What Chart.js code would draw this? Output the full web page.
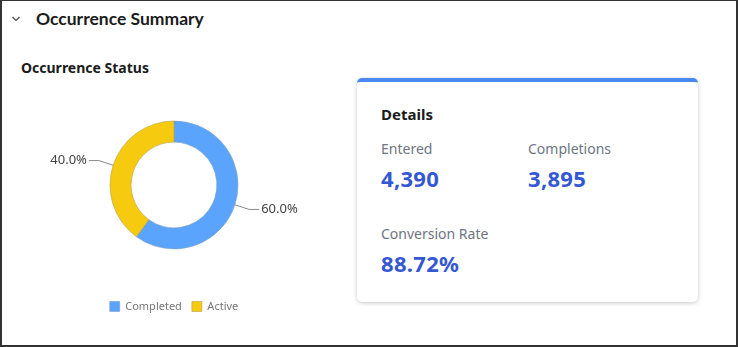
<!DOCTYPE html>
<html>
<head>
<meta charset="utf-8">
<script src="https://cdn.jsdelivr.net/npm/chart.js@4.4.0/dist/chart.umd.min.js"></script>
<style>
  html, body { margin: 0; padding: 0; background: #fff; }
  body { font-family: "Noto Sans", "Open Sans", sans-serif; }
  #panel {
    position: relative; width: 738px; height: 347px; box-sizing: border-box;
    border-top: 1px solid #333; border-left: 2px solid #333;
    border-right: 2px solid #333; border-bottom: 2px solid #333;
    background: #fff; overflow: hidden;
  }
  .caret { position: absolute; left: 8px; top: 13px; }
  .caret svg { display: block; }
  .title { position: absolute; left: 34px; top: 7px; font-family: Lato, "Noto Sans", sans-serif; font-size: 17.5px; font-weight: 700; color: #1b1b1b; }
  .subtitle { position: absolute; left: 19px; top: 57px; font-size: 14px; font-weight: 700; color: #1b1b1b; }
  #chartBox { position: absolute; left: 18px; top: 60px; width: 308px; height: 261px; }
  .card {
    position: absolute; left: 355px; top: 77px; width: 341px; height: 224px;
    box-sizing: border-box; border-radius: 5px; background: #fff;
    border-top: 4px solid #4b88f3;
    box-shadow: 0 1px 4px rgba(0,0,0,0.22);
  }
  .card h3 { position: absolute; left: 24px; top: 22px; margin: 0; font-size: 15px; font-weight: 700; color: #1b1b1b; }
  .stat { position: absolute; }
  .stat .lbl { font-size: 14px; color: #6e7583; line-height: 18px; }
  .stat .val { font-size: 22px; font-weight: 700; color: #3458d4; line-height: 30px; margin-top: 5px; letter-spacing: 0.3px; }
</style>
</head>
<body>
<div id="panel">
  <div class="caret"><svg width="12" height="10" viewBox="0 0 12 10"><path d="M2.5 3 L6 6.5 L9.5 3" fill="none" stroke="#444" stroke-width="1.1"/></svg></div>
  <div class="title">Occurrence Summary</div>
  <div class="subtitle">Occurrence Status</div>
  <div id="chartBox"><canvas id="statusChart"></canvas></div>
  <div class="card" id="details">
    <h3>Details</h3>
  </div>
</div>
<script>
// occurrence status split (percent)
var statusLabels = ['Completed', 'Active'];
var statusValues = [60, 40];
var statusColors = ['#5aa4fd', '#f6ca0f'];

// details card
var detailLabels = ['Entered', 'Completions', 'Conversion Rate'];
var detailValues = ['4,390', '3,895', '88.72%'];

var card = document.getElementById('details');
var slots = [[24, 58], [171, 58], [24, 143]];
for (var i = 0; i < detailLabels.length; i++) {
  var d = document.createElement('div');
  d.className = 'stat';
  d.style.left = slots[i][0] + 'px';
  d.style.top = slots[i][1] + 'px';
  d.innerHTML = '<div class="lbl">' + detailLabels[i] + '</div><div class="val">' + detailValues[i] + '</div>';
  card.appendChild(d);
}

// outside labels with leader lines
var calloutPlugin = {
  id: 'callouts',
  afterDatasetsDraw: function(chart) {
    var ctx = chart.ctx;
    var meta = chart.getDatasetMeta(0);
    var data = chart.data.datasets[0].data;
    var total = data.reduce(function(a, b) { return a + b; }, 0);
    ctx.save();
    ctx.font = '13px "Noto Sans", sans-serif';
    ctx.fillStyle = '#444';
    ctx.strokeStyle = '#888';
    ctx.lineWidth = 1;
    ctx.textBaseline = 'middle';
    meta.data.forEach(function(arc, i) {
      var p = arc.getProps(['x', 'y', 'startAngle', 'endAngle', 'outerRadius'], true);
      var mid = (p.startAngle + p.endAngle) / 2;
      var cos = Math.cos(mid), sin = Math.sin(mid);
      var x0 = p.x + cos * p.outerRadius, y0 = p.y + sin * p.outerRadius;
      var x1 = p.x + cos * (p.outerRadius + 15), y1 = p.y + sin * (p.outerRadius + 15);
      var dir = cos >= 0 ? 1 : -1;
      var x2 = x1 + dir * 10;
      ctx.beginPath();
      ctx.moveTo(x0, y0);
      ctx.lineTo(x1, y1);
      ctx.lineTo(x2, y1);
      ctx.stroke();
      ctx.textAlign = dir > 0 ? 'left' : 'right';
      var txt = (data[i] / total * 100).toFixed(1) + '%';
      ctx.fillText(txt, x2 + dir * 2, y1);
    });
    ctx.restore();
  }
};

var ctx = document.getElementById('statusChart').getContext('2d');
new Chart(ctx, {
  type: 'doughnut',
  data: {
    labels: statusLabels,
    datasets: [{
      data: statusValues,
      backgroundColor: statusColors,
      borderColor: ['#7d9cc4', '#b9a04a'],
      borderWidth: 0.6,
      hoverOffset: 0
    }]
  },
  options: {
    responsive: true,
    maintainAspectRatio: false,
    animation: false,
    radius: 64,
    cutout: '67%',
    layout: { padding: { top: 18, bottom: 0, left: 0, right: 0 } },
    plugins: {
      tooltip: { enabled: false },
      legend: {
        position: 'bottom',
        labels: {
          boxWidth: 10,
          boxHeight: 10,
          padding: 10,
          color: '#777',
          font: { size: 11, family: '"Noto Sans", sans-serif' }
        }
      }
    }
  },
  plugins: [calloutPlugin]
});
</script>
</body>
</html>
